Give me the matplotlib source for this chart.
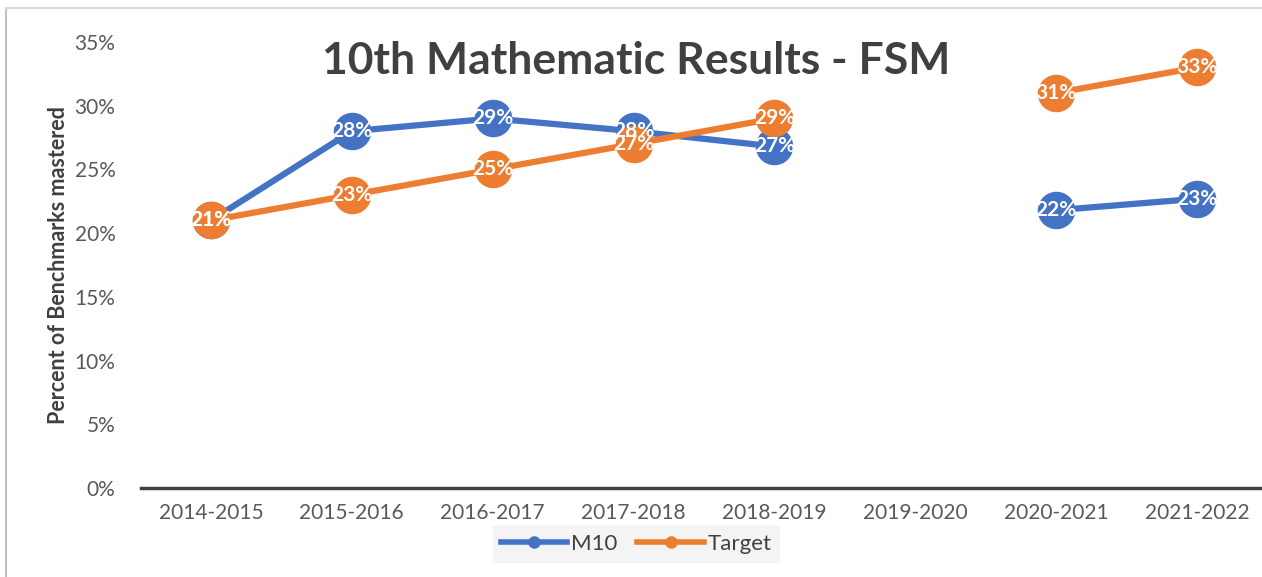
import matplotlib
matplotlib.use("Agg")
import matplotlib.pyplot as plt
import numpy as np
from matplotlib.lines import Line2D

categories = ["2014-2015", "2015-2016", "2016-2017", "2017-2018", "2018-2019",
              "2019-2020", "2020-2021", "2021-2022"]
m10 = [0.21, 0.28, 0.29, 0.28, 0.268, np.nan, 0.218, 0.227]
target = [0.21, 0.23, 0.25, 0.27, 0.29, np.nan, 0.31, 0.33]
yticks = [0, 0.05, 0.10, 0.15, 0.20, 0.25, 0.30, 0.35]

BLUE = "#4472C4"
ORANGE = "#ED7D31"
FONT = ["Lato", "DejaVu Sans"]
plt.rcParams["font.family"] = FONT

W, H = 1262, 577
fig = plt.figure(figsize=(W / 100, H / 100), dpi=100)
ax = fig.add_axes([140.5 / W, 1 - 488 / H, 1127 / W, (488 - 42) / H])

x = np.arange(len(categories))
for vals, col, name in [(m10, BLUE, "M10"), (target, ORANGE, "Target")]:
    ax.plot(x, vals, color=col, lw=4.5, marker="o", ms=26, mec=col, mfc=col,
            solid_capstyle="round", label=name, zorder=3, clip_on=False)
for vals in (m10, target):
    for xi, v in zip(x, vals):
        if not np.isnan(v):
            ax.text(xi, v, f"{round(v * 100):.0f}%", ha="center", va="center",
                    color="white", fontsize=15, fontweight="bold", zorder=5)

ax.set_xlim(-0.5, len(categories) - 0.5)
ax.set_ylim(0, 0.35)
ax.set_yticks(yticks)
ax.set_yticklabels([f"{int(round(t * 100))}%" for t in yticks])
ax.set_xticks(x)
ax.set_xticklabels(categories)
for s in ["top", "right", "left"]:
    ax.spines[s].set_visible(False)
ax.spines["bottom"].set_color("#404040")
ax.spines["bottom"].set_linewidth(2.5)
ax.tick_params(axis="both", length=0, labelsize=15, colors="#595959")
ax.tick_params(axis="y", pad=18)
ax.tick_params(axis="x", pad=11)
ax.set_ylabel("Percent of Benchmarks mastered", fontsize=15.5, fontweight="bold",
              color="#404040", labelpad=4)

fig.text(636 / W, 1 - 61 / H, "10th Mathematic Results - FSM", ha="center",
         va="center", fontsize=32, fontweight="bold", color="#404040")

handles = [Line2D([0], [0], color=BLUE, lw=4, marker="o", ms=8),
           Line2D([0], [0], color=ORANGE, lw=4, marker="o", ms=8)]
leg = fig.legend(handles, ["M10", "Target"], loc="center",
                 bbox_to_anchor=(636 / W, 1 - 544 / H), ncol=2, frameon=True,
                 fontsize=16, handlelength=3.0, columnspacing=0.9,
                 handletextpad=0.15, borderpad=0.35, fancybox=False)
leg.get_frame().set_facecolor("#F2F2F2")
leg.get_frame().set_edgecolor("#F2F2F2")
for t in leg.get_texts():
    t.set_color("#404040")

# chart border (top and left visible)
fig.add_artist(Line2D([6 / W, 6 / W], [0, 1 - 8 / H], transform=fig.transFigure,
                      color="#BFBFBF", lw=1.5))
fig.add_artist(Line2D([6 / W, 1], [1 - 8 / H, 1 - 8 / H], transform=fig.transFigure,
                      color="#D9D9D9", lw=1.5))

fig.savefig("out.png", dpi=100)
